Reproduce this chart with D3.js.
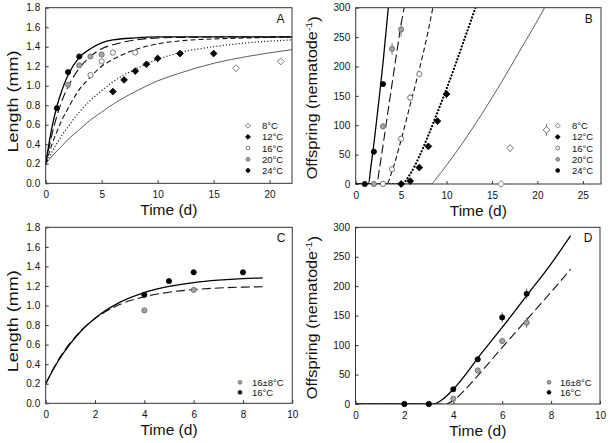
<!DOCTYPE html>
<html>
<head>
<meta charset="utf-8">
<script src="https://cdn.jsdelivr.net/npm/d3@7"></script>
<style>
  body { margin: 0; background: #fff; }
  svg { display: block; font-family: "Liberation Sans", Arial, sans-serif; }
</style>
</head>
<body>
<script>
// ---- data ----
const tempLabels = ["8°C", "12°C", "16°C", "20°C", "24°C"];
const regimeLabels = ["16±8°C", "16°C"];

const lengthTicks = [0, 0.2, 0.4, 0.6, 0.8, 1.0, 1.2, 1.4, 1.6, 1.8];
const offspringTicks = [0, 50, 100, 150, 200, 250, 300];
const timeTicksA = [0, 5, 10, 15, 20];
const timeTicksB = [0, 5, 10, 15, 20, 25];
const timeTicksCD = [0, 2, 4, 6, 8, 10];

// A: length (mm) vs time (d), points
const lenObs8 = [[17, 1.18], [21, 1.25]];
const lenObs12 = [[6, 0.94], [7, 1.06], [8, 1.15], [9, 1.22], [10, 1.28], [12, 1.33], [15, 1.33]];
const lenObs16 = [[4, 1.11], [5, 1.25], [6, 1.34], [8, 1.34]];
const lenObs20 = [[2, 1.01], [3, 1.21], [4, 1.30], [5, 1.32]];
const lenObs24 = [[1, 0.77], [2, 1.14], [3, 1.30]];

// A: fitted curves
const lenFit8 = [[0, 0.2], [0.5, 0.27], [1, 0.33], [1.5, 0.39], [2, 0.45], [3, 0.55], [4, 0.65], [5, 0.73], [6, 0.81], [8, 0.94], [10, 1.05], [12, 1.13], [15, 1.23], [18, 1.30], [22, 1.37]];
const lenFit12 = [[0, 0.2], [0.5, 0.31], [1, 0.41], [1.5, 0.50], [2, 0.58], [3, 0.73], [4, 0.85], [5, 0.95], [6, 1.04], [8, 1.17], [10, 1.27], [12, 1.34], [15, 1.40], [18, 1.44], [22, 1.47]];
const lenFit16 = [[0, 0.2], [0.5, 0.38], [1, 0.53], [1.5, 0.66], [2, 0.77], [3, 0.96], [4, 1.09], [5, 1.20], [6, 1.27], [8, 1.37], [10, 1.43], [12, 1.46], [15, 1.48], [18, 1.49], [22, 1.50]];
const lenFit20 = [[0, 0.2], [0.5, 0.47], [1, 0.69], [1.5, 0.86], [2, 0.99], [3, 1.18], [4, 1.30], [5, 1.38], [6, 1.42], [8, 1.47], [10, 1.49], [12, 1.495], [15, 1.50], [22, 1.50]];
const lenFit24 = [[0, 0.2], [0.5, 0.54], [1, 0.79], [1.5, 0.97], [2, 1.11], [3, 1.29], [4, 1.38], [5, 1.44], [6, 1.47], [8, 1.49], [10, 1.50], [15, 1.50], [22, 1.50]];

// B: offspring per nematode, points [t, value, error]
const offObs8 = [[16, 0, 0], [17, 61, 6], [21, 92, 10]];
const offObs12 = [[5, 0, 0], [6, 5, 0], [7, 28, 0], [8, 64, 0], [9, 107, 4], [10, 153, 7]];
const offObs16 = [[3, 0, 0], [4, 25, 0], [5, 77, 5], [6, 147, 6], [7, 187, 4]];
const offObs20 = [[2, 0, 0], [3, 98, 5], [4, 230, 10], [5, 263, 12]];
const offObs24 = [[1, 0, 0], [2, 55, 0], [3, 170, 3]];

const offFit8 = [[0, 0], [8.26, 0], [9, 12], [10, 32], [12, 75], [14, 122], [16, 172], [18, 225], [20, 278], [20.9, 303]];
const offFit12 = [[0, 0], [5.06, 0], [6, 17], [7, 47], [8, 83], [9, 122], [10, 162], [11, 204], [12, 248], [13, 292], [13.3, 305]];
const offFit16 = [[0, 0], [3.4, 0], [4, 22], [5, 75], [6, 135], [7, 195], [8, 262], [8.55, 305]];
const offFit20 = [[0, 0], [2.31, 0], [2.6, 25], [3, 65], [3.5, 118], [4, 170], [4.5, 222], [5, 272], [5.4, 305]];
const offFit24 = [[0, 0], [1.39, 0], [1.7, 33], [2, 68], [2.5, 135], [3, 205], [3.62, 305]];

// C: length under fluctuating vs constant temperature
const cLenObsFluct = [[4, 0.95], [6, 1.16]];
const cLenObsConst = [[4, 1.11], [5, 1.25], [6, 1.34], [8, 1.34]];
const cLenFitFluct = [[0, 0.2], [0.5, 0.44], [1, 0.62], [1.5, 0.76], [2, 0.867], [3, 1.01], [4, 1.09], [5, 1.136], [6, 1.163], [7, 1.179], [8, 1.188], [8.8, 1.192]];
const cLenFitConst = [[0, 0.2], [0.5, 0.43], [1, 0.61], [1.5, 0.757], [2, 0.87], [3, 1.032], [4, 1.132], [5, 1.195], [6, 1.234], [7, 1.259], [8, 1.275], [8.8, 1.282]];

// D: offspring under fluctuating vs constant temperature
const dOffObsFluct = [[2, 0, 0], [3, 0, 0], [4, 9, 0], [5, 57, 3], [6, 107, 5], [7, 138, 9]];
const dOffObsConst = [[2, 0, 0], [3, 0, 0], [4, 25, 0], [5, 76, 4], [6, 147, 9], [7, 187, 9]];
const dOffFitFluct = [[0, 0], [3.7, 0], [4, 6], [4.5, 25], [5, 48], [6, 96], [7, 143], [8, 190], [8.8, 229]];
const dOffFitConst = [[0, 0], [3.2, 0], [3.5, 6], [4, 25], [4.5, 50], [5, 78], [6, 130], [7, 184], [8, 238], [8.8, 286]];

// ---- styles ----
const mk = {
  openDiamond: {shape: "diamond", fill: "#fff", stroke: "#555"},
  blackDiamond: {shape: "diamond", fill: "#000", stroke: "#000"},
  openCircle: {shape: "circle", fill: "#fff", stroke: "#555"},
  greyCircle: {shape: "circle", fill: "#a3a3a3", stroke: "#666"},
  blackCircle: {shape: "circle", fill: "#000", stroke: "#000"},
};
const ln = {
  thin: {w: 0.8, dash: null, color: "#333"},
  dotted: {w: 1.3, dash: "1,2.2", color: "#111", cap: "butt"},
  dottedBold: {w: 2.2, dash: "0.1,3.3", color: "#000", cap: "round"},
  dash: {w: 1.1, dash: "5,3", color: "#111"},
  longDash: {w: 1.1, dash: "9,4", color: "#111"},
  solid: {w: 1.3, dash: null, color: "#000"},
};
const tempMarkers = [mk.openDiamond, mk.blackDiamond, mk.openCircle, mk.greyCircle, mk.blackCircle];
const regimeMarkers = [mk.greyCircle, mk.blackCircle];

const W = 610, H = 443;
const svg = d3.select("body").append("svg").attr("width", W).attr("height", H);
const defs = svg.append("defs");

function marker(g, x, y, m, s) {
  if (m.shape === "circle") {
    g.append("circle").attr("cx", x).attr("cy", y).attr("r", s)
      .attr("fill", m.fill).attr("stroke", m.stroke).attr("stroke-width", 0.8);
  } else {
    const d = s * 1.3;
    g.append("path").attr("d", `M${x},${y - d}L${x + d},${y}L${x},${y + d}L${x - d},${y}Z`)
      .attr("fill", m.fill).attr("stroke", m.stroke).attr("stroke-width", 0.8);
  }
}

function panel(p) {
  const x = d3.scaleLinear().domain(p.xDomain).range([p.left, p.right]);
  const y = d3.scaleLinear().domain(p.yDomain).range([p.bottom, p.top]);
  const g = svg.append("g");
  const clipId = "clip-" + p.letter;
  defs.append("clipPath").attr("id", clipId).append("rect")
    .attr("x", p.left).attr("y", p.top).attr("width", p.right - p.left).attr("height", p.bottom - p.top);

  g.append("g").attr("transform", `translate(0,${p.bottom})`)
    .call(d3.axisBottom(x).tickValues(p.xTicks).tickSize(-3).tickPadding(8).tickFormat(d3.format("d")))
    .call(a => a.select(".domain").remove())
    .call(a => a.selectAll("text").attr("font-size", 10).attr("fill", "#111").attr("font-family", null))
    .call(a => a.selectAll("line").attr("stroke", "#333"));
  g.append("g").attr("transform", `translate(${p.left},0)`)
    .call(d3.axisLeft(y).tickValues(p.yTicks).tickSize(-3).tickPadding(5.5).tickFormat(p.yFormat))
    .call(a => a.select(".domain").remove())
    .call(a => a.selectAll("text").attr("font-size", 10).attr("fill", "#111").attr("font-family", null))
    .call(a => a.selectAll("line").attr("stroke", "#333"));

  const plot = g.append("g").attr("clip-path", `url(#${clipId})`);
  const line = d3.line().x(d => x(d[0])).y(d => y(d[1])).curve(d3.curveMonotoneX);
  for (const s of p.fits) {
    plot.append("path").attr("d", line(s.data)).attr("fill", "none")
      .attr("stroke", s.style.color).attr("stroke-width", s.style.w)
      .attr("stroke-dasharray", s.style.dash).attr("stroke-linecap", s.style.cap || "butt");
  }

  g.append("rect").attr("x", p.left).attr("y", p.top)
    .attr("width", p.right - p.left).attr("height", p.bottom - p.top)
    .attr("fill", "none").attr("stroke", "#333").attr("stroke-width", 1);

  const pts = g.append("g");
  for (const s of p.obs) {
    for (const d of s.data) {
      if (d[2]) {
        pts.append("line").attr("x1", x(d[0])).attr("x2", x(d[0]))
          .attr("y1", y(d[1] - d[2])).attr("y2", y(d[1] + d[2]))
          .attr("stroke", "#555").attr("stroke-width", 0.8);
      }
      marker(pts, x(d[0]), y(d[1]), s.marker, 2.6);
    }
  }

  // legend
  p.legend.labels.forEach((lab, i) => {
    const ly = p.legend.y + i * p.legend.dy;
    marker(g, p.legend.mx, ly, p.legend.markers[i], 1.9);
    g.append("text").attr("x", p.legend.tx).attr("y", ly + 3.4)
      .attr("font-size", 9.5).attr("fill", "#111").text(lab);
  });

  g.append("text").attr("x", p.letterX).attr("y", p.top + 15)
    .attr("text-anchor", "middle").attr("font-size", 12).attr("fill", "#111").text(p.letter);

  g.append("text").attr("x", (p.left + p.right) / 2).attr("y", p.bottom + 32)
    .attr("text-anchor", "middle").attr("font-size", 15.5).attr("fill", "#111").text("Time (d)");

  const yt = g.append("text")
    .attr("transform", `translate(${p.titleX},${(p.top + p.bottom) / 2 + p.titleShift}) rotate(-90)`)
    .attr("text-anchor", "middle").attr("font-size", 14).attr("fill", "#111")
    .attr("textLength", p.titleLen).attr("lengthAdjust", "spacingAndGlyphs");
  if (p.yTitle === "length") {
    yt.text("Length (mm)");
  } else {
    yt.append("tspan").text("Offspring (nematode");
    yt.append("tspan").attr("dy", "-0.45em").attr("font-size", 9).text("-1");
    yt.append("tspan").attr("dy", "0.45em").text(")");
  }
}

const fmt1 = d3.format(".1f");
const fmt0 = d3.format("d");

panel({
  letter: "A", letterX: 280.5, left: 45.7, right: 292, top: 7.7, bottom: 183.3,
  xDomain: [0, 22], yDomain: [0, 1.8], xTicks: timeTicksA, yTicks: lengthTicks, yFormat: fmt1,
  yTitle: "length", titleX: 18, titleShift: 6, titleLen: 102,
  fits: [
    {data: lenFit8, style: ln.thin}, {data: lenFit12, style: ln.dotted}, {data: lenFit16, style: ln.dash},
    {data: lenFit20, style: ln.longDash}, {data: lenFit24, style: ln.solid},
  ],
  obs: [
    {data: lenObs8.map(d => [d[0], d[1], 0]), marker: mk.openDiamond},
    {data: lenObs12.map(d => [d[0], d[1], 0]), marker: mk.blackDiamond},
    {data: lenObs16.map(d => [d[0], d[1], 0]), marker: mk.openCircle},
    {data: lenObs20.map(d => [d[0], d[1], 0]), marker: mk.greyCircle},
    {data: lenObs24.map(d => [d[0], d[1], 0]), marker: mk.blackCircle},
  ],
  legend: {labels: tempLabels, markers: tempMarkers, mx: 248, tx: 262, y: 125.7, dy: 11.2},
});

panel({
  letter: "B", letterX: 588.7, left: 355.7, right: 601, top: 7.7, bottom: 184,
  xDomain: [0, 27], yDomain: [0, 300], xTicks: timeTicksB, yTicks: offspringTicks, yFormat: fmt0,
  yTitle: "offspring", titleX: 316.5, titleShift: 2, titleLen: 163,
  fits: [
    {data: offFit8, style: ln.thin}, {data: offFit12, style: ln.dottedBold}, {data: offFit16, style: ln.dash},
    {data: offFit20, style: ln.longDash}, {data: offFit24, style: ln.solid},
  ],
  obs: [
    {data: offObs8, marker: mk.openDiamond}, {data: offObs12, marker: mk.blackDiamond},
    {data: offObs16, marker: mk.openCircle}, {data: offObs20, marker: mk.greyCircle},
    {data: offObs24, marker: mk.blackCircle},
  ],
  legend: {labels: tempLabels, markers: tempMarkers, mx: 557.7, tx: 572, y: 125.7, dy: 11.2},
});

panel({
  letter: "C", letterX: 281, left: 45.7, right: 292.3, top: 227.3, bottom: 403.3,
  xDomain: [0, 10], yDomain: [0, 1.8], xTicks: timeTicksCD, yTicks: lengthTicks, yFormat: fmt1,
  yTitle: "length", titleX: 18, titleShift: 6, titleLen: 102,
  fits: [{data: cLenFitFluct, style: ln.longDash}, {data: cLenFitConst, style: ln.solid}],
  obs: [
    {data: cLenObsFluct.map(d => [d[0], d[1], 0]), marker: mk.greyCircle},
    {data: cLenObsConst.map(d => [d[0], d[1], 0]), marker: mk.blackCircle},
  ],
  legend: {labels: regimeLabels, markers: regimeMarkers, mx: 240, tx: 252, y: 382.3, dy: 10},
});

panel({
  letter: "D", letterX: 588, left: 355.5, right: 600, top: 227.3, bottom: 404,
  xDomain: [0, 10], yDomain: [0, 300], xTicks: timeTicksCD, yTicks: offspringTicks, yFormat: fmt0,
  yTitle: "offspring", titleX: 316.5, titleShift: 2, titleLen: 163,
  fits: [{data: dOffFitFluct, style: ln.longDash}, {data: dOffFitConst, style: ln.solid}],
  obs: [
    {data: dOffObsFluct, marker: mk.greyCircle},
    {data: dOffObsConst, marker: mk.blackCircle},
  ],
  legend: {labels: regimeLabels, markers: regimeMarkers, mx: 549, tx: 560, y: 382.3, dy: 10},
});
</script>
</body>
</html>
